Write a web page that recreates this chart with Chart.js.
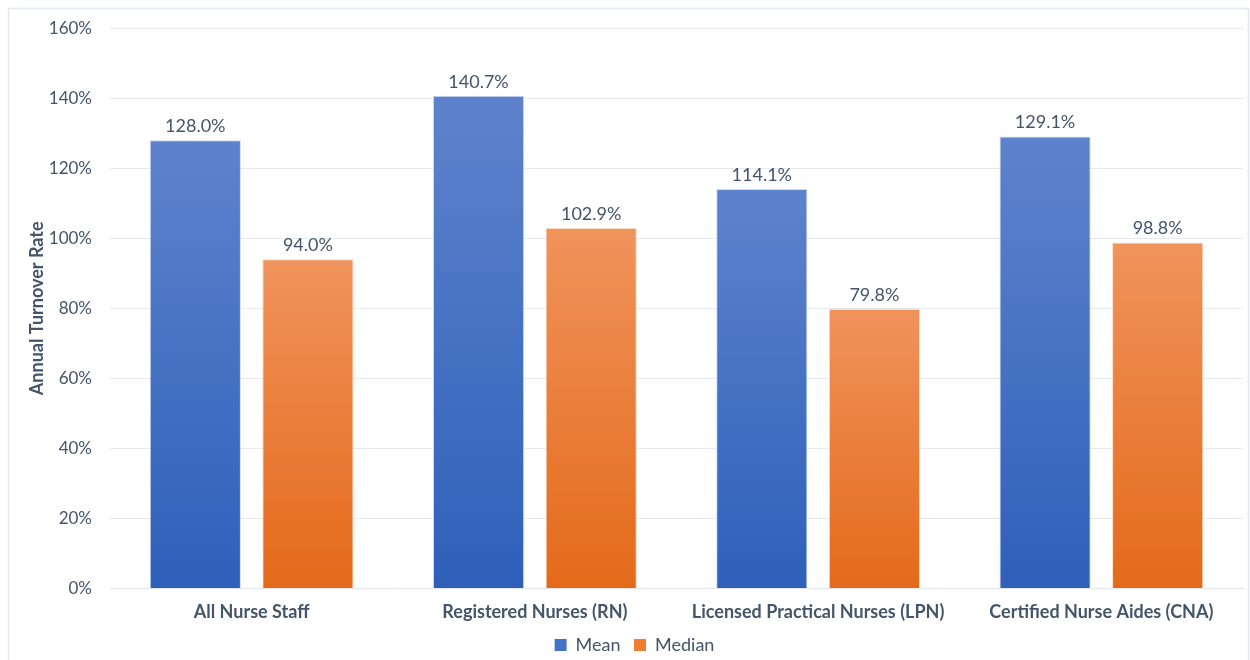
<!DOCTYPE html>
<html>
<head>
<meta charset="utf-8">
<title>Annual Turnover Rate</title>
<script src="https://cdn.jsdelivr.net/npm/chart.js@4"></script>
<style>
  html, body { margin: 0; padding: 0; background: #fff; }
  #wrap { position: relative; width: 1250px; height: 660px; }
</style>
</head>
<body>
<div id="wrap"><canvas id="chart" width="1250" height="660"></canvas></div>
<script>
/* 데이터 */
const categories = ['All Nurse Staff', 'Registered Nurses (RN)', 'Licensed Practical Nurses (LPN)', 'Certified Nurse Aides (CNA)'];
const meanValues = [128.0, 140.7, 114.1, 129.1];
const medianValues = [94.0, 102.9, 79.8, 98.8];
const yTicks = [0, 20, 40, 60, 80, 100, 120, 140, 160];

const TEXT = '#44546A';
const FONT = 'Lato, "Open Sans", sans-serif';

/* 막대별 세로 그라데이션 */
function barGradient(top, bottom) {
  return function (ctx) {
    const chart = ctx.chart;
    const y = chart.scales && chart.scales.y;
    if (!chart.chartArea || !y) return bottom;
    const y0 = y.getPixelForValue(ctx.raw);
    const y1 = y.getPixelForValue(0);
    const g = chart.ctx.createLinearGradient(0, y0, 0, y1);
    g.addColorStop(0, top);
    g.addColorStop(1, bottom);
    return g;
  };
}

/* 막대 위 값 표시 + 바깥 테두리 */
const valueLabels = {
  id: 'valueLabels',
  afterDatasetsDraw(chart) {
    const c = chart.ctx;
    c.save();
    c.font = '18px ' + FONT;
    c.fillStyle = TEXT;
    c.textAlign = 'center';
    c.textBaseline = 'bottom';
    chart.data.datasets.forEach((ds, i) => {
      chart.getDatasetMeta(i).data.forEach((bar, j) => {
        c.fillText(ds.data[j].toFixed(1) + '%', bar.x, bar.y - 5);
      });
    });
    c.restore();
  },
  beforeDraw(chart) {
    const c = chart.ctx;
    c.save();
    c.strokeStyle = '#e2e6ee';
    c.lineWidth = 1.5;
    c.strokeRect(8.5, 8.5, 1240, 660);
    c.restore();
  }
};

const swatches = ['#4472C4', '#ED7D31'];

new Chart(document.getElementById('chart'), {
  type: 'bar',
  data: {
    labels: categories,
    datasets: [
      {
        label: 'Mean',
        data: meanValues,
        backgroundColor: barGradient('#5E83CC', '#2E60BA'),
        borderColor: 'rgba(200,215,240,0.9)',
        borderWidth: 1,
        categoryPercentage: 0.795,
        barPercentage: 0.81,
      },
      {
        label: 'Median',
        data: medianValues,
        backgroundColor: barGradient('#F0935C', '#E46A1A'),
        borderColor: 'rgba(250,215,190,0.9)',
        borderWidth: 1,
        categoryPercentage: 0.795,
        barPercentage: 0.81,
      },
    ],
  },
  options: {
    responsive: false,
    animation: false,
    devicePixelRatio: 1,
    layout: { padding: { left: 26, right: 7, top: 4, bottom: -4 } },
    plugins: {
      tooltip: { enabled: false },
      legend: {
        position: 'bottom',
        labels: {
          color: TEXT,
          font: { family: FONT, size: 18 },
          boxWidth: 12,
          boxHeight: 12,
          padding: 0,
          // 항목 간격은 padding 0 대신 뒤쪽 공백으로
          generateLabels: (chart) => chart.data.datasets.map((ds, i) => ({
            text: i === 0 ? ds.label + '\u2003' : ds.label,
            fillStyle: swatches[i],
            strokeStyle: swatches[i],
            lineWidth: 0,
            fontColor: TEXT,
            datasetIndex: i,
          })),
        },
      },
    },
    scales: {
      x: {
        grid: { display: false, drawTicks: false },
        border: { color: '#e3e6ee', width: 1 },
        ticks: {
          color: TEXT,
          font: { family: FONT, size: 18, weight: 'bold' },
          padding: 13,
          maxRotation: 0,
        },
      },
      y: {
        min: 0,
        max: 160,
        afterBuildTicks: (axis) => { axis.ticks = yTicks.map(v => ({ value: v })); },
        afterFit: (axis) => { axis.width = 84; },
        grid: { color: '#e6e9f0', drawTicks: false },
        border: { display: false },
        ticks: {
          color: TEXT,
          font: { family: FONT, size: 17 },
          padding: 18,
          callback: (v) => v + '%',
        },
        title: {
          display: true,
          text: 'Annual Turnover Rate',
          color: TEXT,
          font: { family: FONT, size: 18, weight: 'bold' },
          padding: { top: 0, bottom: 0 },
        },
      },
    },
  },
  plugins: [valueLabels],
});
</script>
</body>
</html>
